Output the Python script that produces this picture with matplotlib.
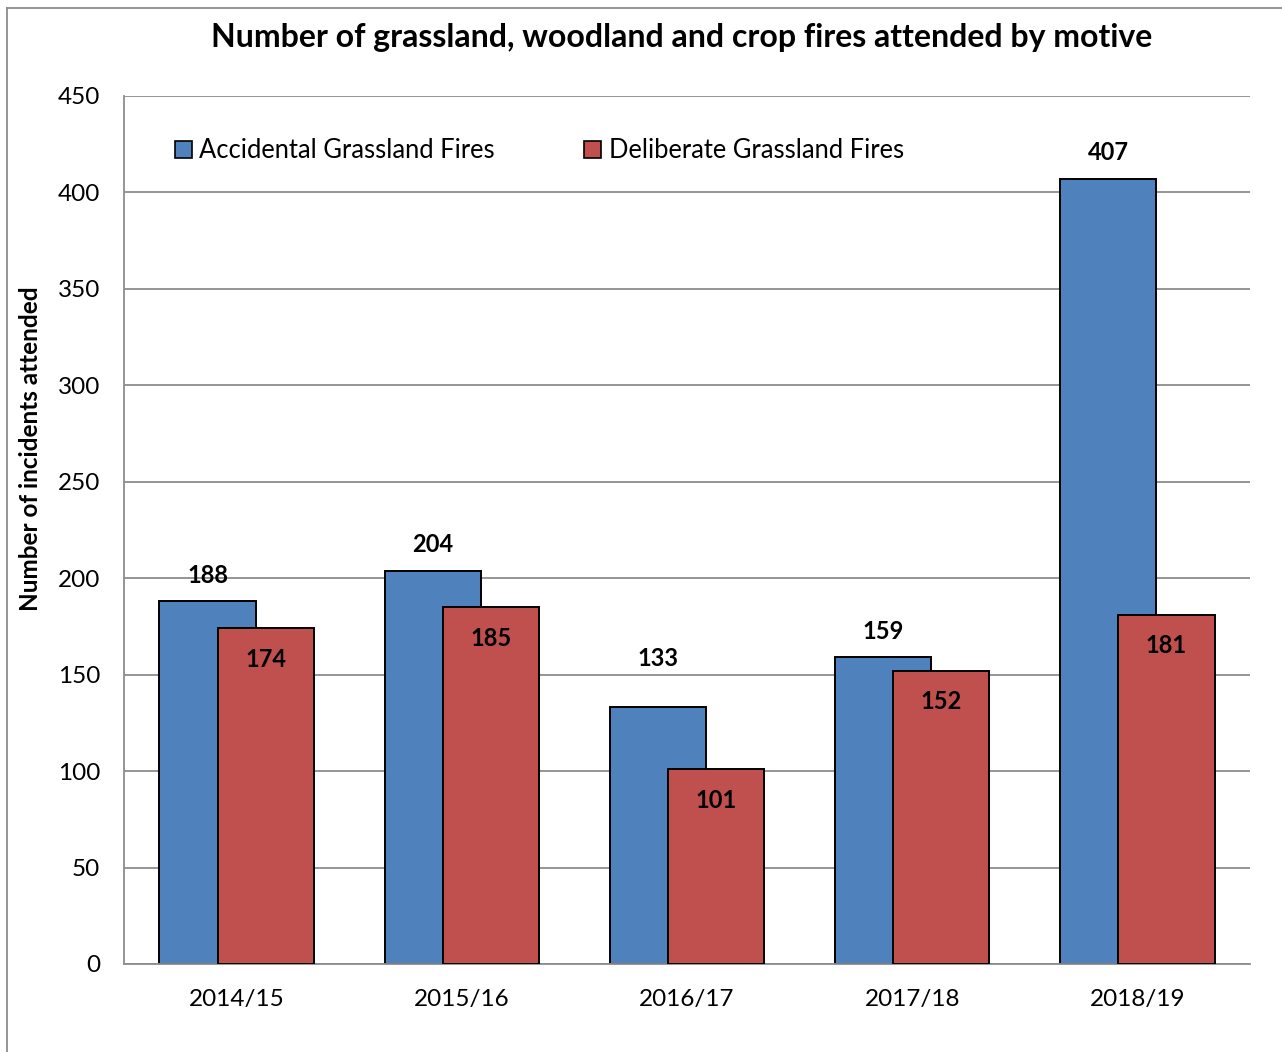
import matplotlib
matplotlib.use("Agg")
import matplotlib.pyplot as plt
import numpy as np
from matplotlib.lines import Line2D
from matplotlib.patches import Patch

# 資料
years = ["2014/15", "2015/16", "2016/17", "2017/18", "2018/19"]
accidental = [188, 204, 133, 159, 407]
deliberate = [174, 185, 101, 152, 181]
series_names = ["Accidental Grassland Fires", "Deliberate Grassland Fires"]

BLUE = "#4F81BD"
RED = "#C0504D"
GRID = "#8C8C8C"

plt.rcParams["font.family"] = ["Lato", "DejaVu Sans"]

fig = plt.figure(figsize=(12.82, 10.52), dpi=100)
ax = fig.add_axes([124 / 1282, 1 - 964 / 1052, 1126 / 1282, 868 / 1052])

x = np.arange(len(years))
w = 0.427
off = 0.129
ax.bar(x - off, accidental, w, color=BLUE, edgecolor="black", linewidth=1.4, zorder=2)
ax.bar(x + off, deliberate, w, color=RED, edgecolor="black", linewidth=1.4, zorder=3)

# 2016/17 的藍色標籤在原圖中被往上移
for xi, v in zip(x, accidental):
    dy = 27 if years[xi] == "2016/17" else 10.5
    ax.annotate(str(v), (xi - off, v), xytext=(0, dy), textcoords="offset points",
                ha="center", va="bottom", fontsize=17, fontweight="bold")
for xi, v in zip(x, deliberate):
    ax.annotate(str(v), (xi + off, v), xytext=(0, -14), textcoords="offset points",
                ha="center", va="top", fontsize=17, fontweight="bold")

ax.set_xlim(-0.5, len(years) - 0.5)
ax.set_ylim(0, 450)
ax.set_yticks(np.arange(0, 451, 50))
ax.set_xticks(x)
ax.set_xticklabels(years)
ax.tick_params(axis="both", length=0, labelsize=17.5)
ax.tick_params(axis="x", pad=18)
ax.tick_params(axis="y", pad=17)
ax.yaxis.grid(True, color=GRID, linewidth=1.3, zorder=0)
ax.set_axisbelow(True)
for s in ["top", "right"]:
    ax.spines[s].set_visible(False)
for s in ["left", "bottom"]:
    ax.spines[s].set_color(GRID)
    ax.spines[s].set_linewidth(1.3)

fig.text(31 / 1282, 1 - 449 / 1052, "Number of incidents attended", rotation=90,
         ha="center", va="center", fontsize=17.5, fontweight="bold")

fig.suptitle("Number of grassland, woodland and crop fires attended by motive",
             x=682 / 1282, y=1 - 38 / 1052, va="center", fontsize=23, fontweight="bold")

handles = [Patch(facecolor=BLUE, edgecolor="black", linewidth=1.2),
           Patch(facecolor=RED, edgecolor="black", linewidth=1.2)]
ax.legend(handles, series_names, loc="upper left", bbox_to_anchor=(0.025, 0.978),
          ncol=2, frameon=False, fontsize=18.4, handlelength=0.65, handleheight=0.65,
          handletextpad=0.3, columnspacing=3.5)

# 外框(左、上)
fig.add_artist(Line2D([7 / 1282, 7 / 1282], [0, 1 - 8 / 1052], transform=fig.transFigure,
                      color=GRID, linewidth=1.3))
fig.add_artist(Line2D([7 / 1282, 1], [1 - 8 / 1052, 1 - 8 / 1052], transform=fig.transFigure,
                      color=GRID, linewidth=1.3))

fig.savefig("out.png", dpi=100)
